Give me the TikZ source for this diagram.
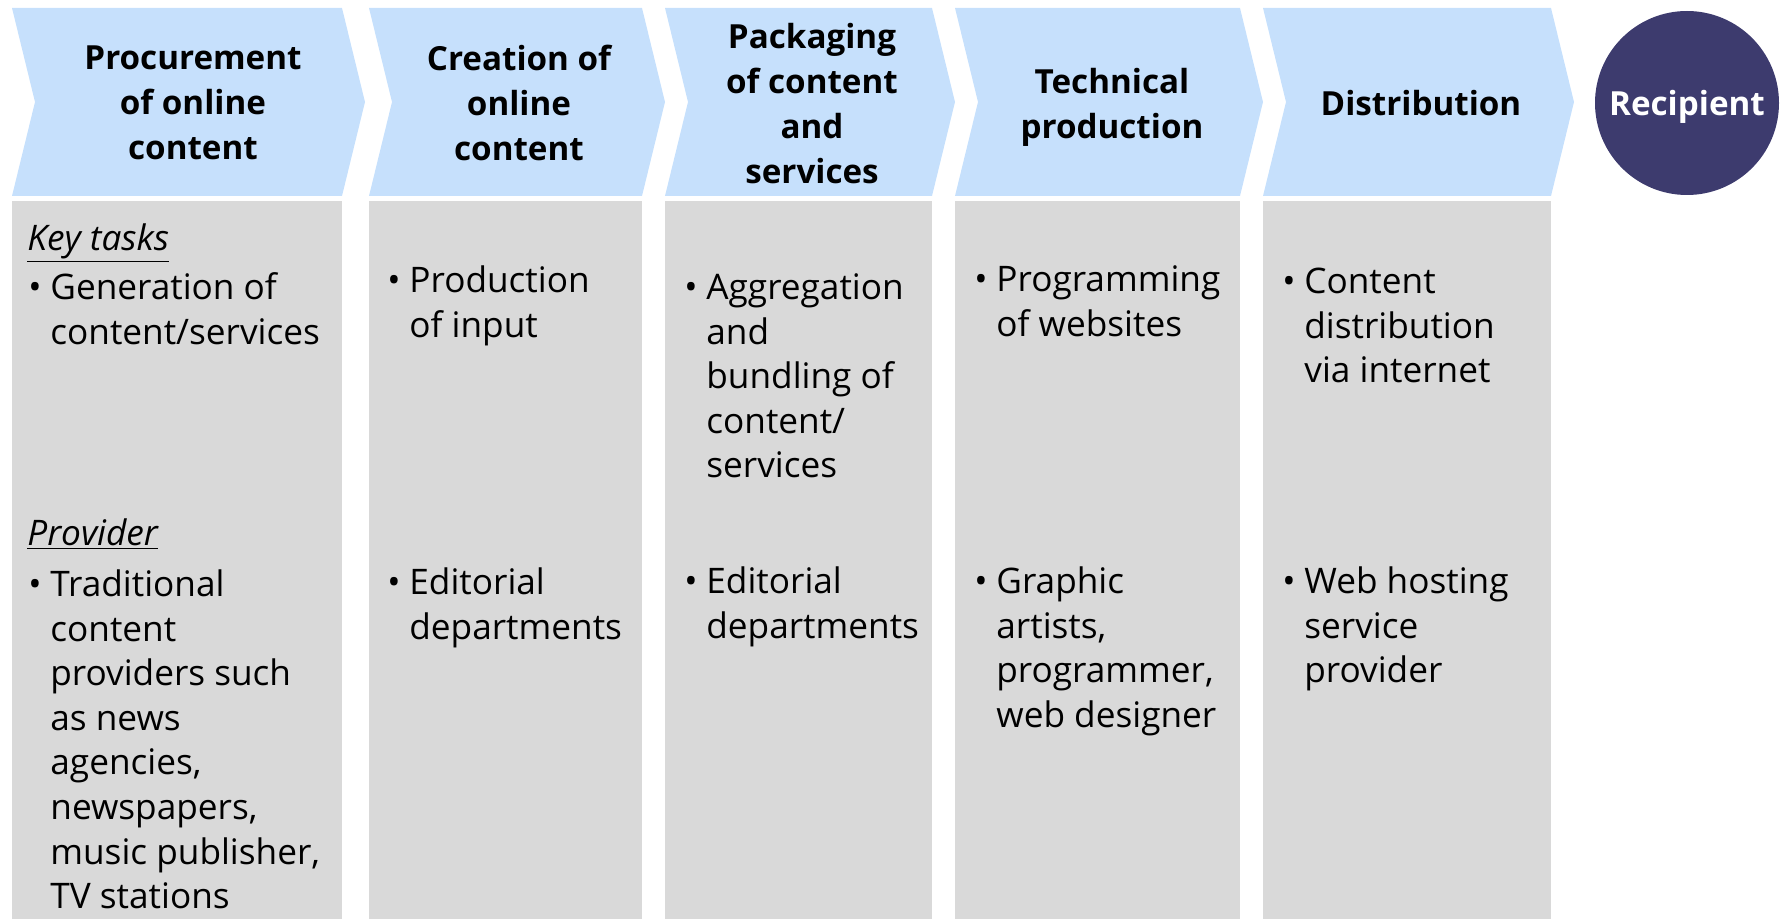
\documentclass[tikz,border=0pt]{standalone}
\usepackage{fontspec}
\setmainfont{Open Sans}

\definecolor{chevblue}{RGB}{198,224,252}
\definecolor{colgray}{RGB}{217,217,217}
\definecolor{recipnavy}{RGB}{61,59,110}

\newcommand{\bul}{\strut\makebox[11pt][l]{\textbullet}}
\newcommand{\ind}{\makebox[11pt]{}}

\begin{document}
\begin{tikzpicture}[x=0.5pt, y=-0.5pt,
  stagehead/.style={align=center, inner sep=0pt, font=\bfseries\fontsize{16.6}{22.5}\selectfont},
  celltext/.style={anchor=north west, yshift=15.6pt, align=left, inner sep=0pt, font=\fontsize{17.6}{22.3}\selectfont}]
  \useasboundingbox (0,0) rectangle (1785,919);
  % chevrons and grey columns
  \foreach \xl/\xr in {12/342, 369/642, 665/932, 955/1240, 1263/1551} {
    \fill[chevblue] (\xl,8) -- (\xr,8) -- (\xr+23,102) -- (\xr,196) -- (\xl,196) -- (\xl+23,102) -- cycle;
    \fill[colgray] (\xl,201) rectangle (\xr,919);
  }
  % stage headings
  \node[stagehead] (procure) at (193,103) {Procurement\\of online\\content};
  \node[stagehead] (create) at (519,103) {Creation of\\online\\content};
  \node[stagehead] (package) at (812,104) {Packaging\\of content\\and\\services};
  \node[stagehead] (technical) at (1112,107) {Technical\\production};
  \node[stagehead] (distrib) at (1421,103) {Distribution};
  \node[circle, fill=recipnavy, minimum size=92pt, inner sep=0pt, text=white, text depth=0pt,
        font=\bfseries\fontsize{16.6}{22.5}\selectfont] (recipient) at (1687,103) {Recipient};
  % column 1
  \node[celltext] (keytasks) at (27,250) {\strut\underline{\itshape Key tasks}};
  \node[celltext] (task1) at (28,299) {\bul Generation of\\\ind content/services};
  \node[celltext] (provider) at (27,545) {\strut\underline{\itshape Provider}};
  \node[celltext] (prov1) at (28,596) {\bul Traditional\\\ind content\\\ind providers such\\\ind as news\\\ind agencies,\\\ind newspapers,\\\ind music publisher,\\\ind TV stations};
  % column 2
  \node[celltext] (task2) at (387,292) {\bul Production\\\ind of input};
  \node[celltext] (prov2) at (387,594) {\bul Editorial\\\ind departments};
  % column 3
  \node[celltext] (task3) at (684,299) {\bul Aggregation\\\ind and\\\ind bundling of\\\ind content/\\\ind services};
  \node[celltext] (prov3) at (684,593) {\bul Editorial\\\ind departments};
  % column 4
  \node[celltext] (task4) at (974,291) {\bul Programming\\\ind of websites};
  \node[celltext] (prov4) at (974,593) {\bul Graphic\\\ind artists,\\\ind programmer,\\\ind web designer};
  % column 5
  \node[celltext] (task5) at (1282,293) {\bul Content\\\ind distribution\\\ind via internet};
  \node[celltext] (prov5) at (1282,593) {\bul Web hosting\\\ind service\\\ind provider};
\end{tikzpicture}
\end{document}
